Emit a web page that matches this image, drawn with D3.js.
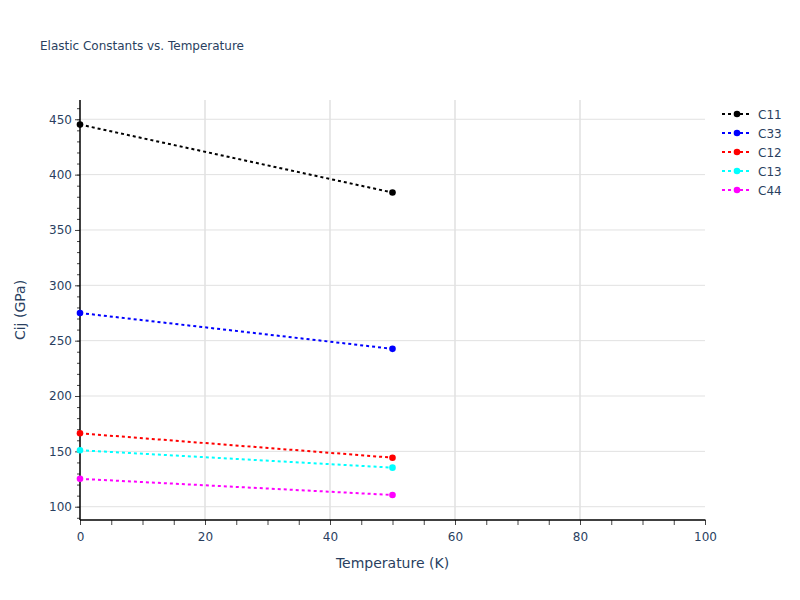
<!DOCTYPE html>
<html><head><meta charset="utf-8">
<script src="https://cdn.jsdelivr.net/npm/d3@7/dist/d3.min.js"></script>
<style>body{margin:0;background:#fff}svg{font-family:"DejaVu Sans",verdana,arial,sans-serif}</style>
</head><body><svg id="c" width="800" height="600"></svg>
<script>
const temperatures = [0, 50];
const seriesNames = ["C11", "C33", "C12", "C13", "C44"];
const seriesColors = ["black", "blue", "red", "cyan", "magenta"];
const C11 = [445.2, 383.8];
const C33 = [275.0, 242.6];
const C12 = [166.3, 144.3];
const C13 = [151.0, 135.3];
const C44 = [125.2, 110.6];
const seriesValues = [C11, C33, C12, C13, C44];
const xTicks = [0, 20, 40, 60, 80, 100];
const yTicks = [100, 150, 200, 250, 300, 350, 400, 450];

const svg = d3.select("#c");
const L = 80, R = 705, T = 100, B = 520;
const x = d3.scaleLinear().domain([0, 100]).range([L, R]);
const y = d3.scaleLinear().domain([88, 467.4]).range([B, T]);
const txt = "#2a3f5f";
const ff = "'DejaVu Sans',verdana,arial,sans-serif";

// grid
svg.append("g").selectAll("line").data(xTicks.filter(d => d > 0 && d < 100)).join("line")
  .attr("x1", d => x(d)).attr("x2", d => x(d)).attr("y1", T).attr("y2", B)
  .attr("stroke", "#e1e1e1").attr("stroke-width", 1.5);
svg.append("g").selectAll("line").data(yTicks).join("line")
  .attr("x1", L).attr("x2", R).attr("y1", d => y(d)).attr("y2", d => y(d))
  .attr("stroke", "#e1e1e1").attr("stroke-width", 1);

// axes
const xMinor = d3.range(0, 101, 5);
const yMinor = d3.range(90, 461, 10);
const xa = svg.append("g").attr("transform", `translate(0,${B})`)
  .call(d3.axisBottom(x).tickValues(xMinor).tickSize(5).tickFormat(""));
xa.select(".domain").remove();
xa.selectAll("line").attr("stroke", "#444");
const xb = svg.append("g").attr("transform", `translate(0,${B})`)
  .call(d3.axisBottom(x).tickValues(xTicks).tickSize(5).tickPadding(7).tickFormat(d3.format("d")));
xb.select(".domain").remove();
xb.selectAll("line").attr("stroke", "#444");
xb.selectAll("text").attr("fill", txt).attr("font-size", 12).attr("font-family", ff);

const ya = svg.append("g").attr("transform", `translate(${L},0)`)
  .call(d3.axisLeft(y).tickValues(yMinor).tickSize(3).tickFormat(""));
ya.select(".domain").remove();
ya.selectAll("line").attr("stroke", "#444");
const yb = svg.append("g").attr("transform", `translate(${L},0)`)
  .call(d3.axisLeft(y).tickValues(yTicks).tickSize(5).tickPadding(3).tickFormat(d3.format("d")));
yb.select(".domain").remove();
yb.selectAll("line").attr("stroke", "#444");
yb.selectAll("text").attr("fill", txt).attr("font-size", 12).attr("font-family", ff);

svg.append("line").attr("x1", L).attr("x2", R + 0.5).attr("y1", B).attr("y2", B).attr("stroke", "black").attr("stroke-width", 1.5);
svg.append("line").attr("x1", L).attr("x2", L).attr("y1", T).attr("y2", B).attr("stroke", "black").attr("stroke-width", 1.5);

// series
const line = d3.line().x((d, i) => x(temperatures[i])).y(d => y(d));
const gs = svg.append("g");
seriesValues.forEach((vals, k) => {
  gs.append("path").attr("d", line(vals)).attr("fill", "none")
    .attr("stroke", seriesColors[k]).attr("stroke-width", 2).attr("stroke-dasharray", "3,3");
  gs.selectAll(null).data(vals).join("circle")
    .attr("cx", (d, i) => x(temperatures[i])).attr("cy", d => y(d)).attr("r", 3.3)
    .attr("fill", seriesColors[k]);
});

// legend
const lg = svg.append("g");
seriesNames.forEach((n, k) => {
  const yy = 114 + k * 19;
  lg.append("line").attr("x1", 722).attr("x2", 752).attr("y1", yy).attr("y2", yy)
    .attr("stroke", seriesColors[k]).attr("stroke-width", 2).attr("stroke-dasharray", "3,3");
  lg.append("circle").attr("cx", 737).attr("cy", yy).attr("r", 3.3).attr("fill", seriesColors[k]);
  lg.append("text").attr("x", 758).attr("y", yy + 4.5).text(n).attr("fill", txt).attr("font-size", 12);
});

// titles
svg.append("text").attr("x", 40).attr("y", 50).text("Elastic Constants vs. Temperature")
  .attr("fill", txt).attr("font-size", 12);
svg.append("text").attr("x", (L + R) / 2).attr("y", 568).attr("text-anchor", "middle")
  .text("Temperature (K)").attr("fill", txt).attr("font-size", 14);
svg.append("text").attr("transform", `translate(25,${(T + B) / 2}) rotate(-90)`).attr("text-anchor", "middle")
  .text("Cij (GPa)").attr("fill", txt).attr("font-size", 14);
</script></body></html>
